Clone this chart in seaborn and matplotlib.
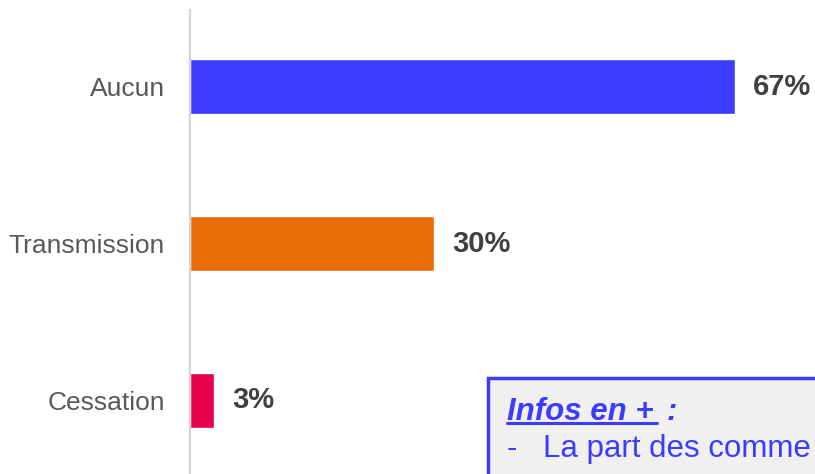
import matplotlib
matplotlib.use("Agg")
import matplotlib.pyplot as plt
import matplotlib.patches as mpatches
import matplotlib.lines as mlines
import pandas as pd
import seaborn as sns

# data
categories = ["Aucun", "Transmission", "Cessation"]
values = [67, 30, 3]
bar_colors = ["#3c3cff", "#e96c07", "#e6004c"]
value_labels = ["67%", "30%", "3%"]

W, H = 815, 474

sns.set_style("white")
plt.rcParams["font.family"] = ["Liberation Sans", "DejaVu Sans"]

df = pd.DataFrame({"cat": categories, "val": values})

fig = plt.figure(figsize=(W / 100, H / 100), dpi=100)
ax = fig.add_axes([190 / W, 0, (W - 190) / W, 464 / H])

sns.barplot(data=df, x="val", y="cat", hue="cat", palette=bar_colors,
            order=categories, hue_order=categories, width=0.35,
            orient="h", legend=False, ax=ax, saturation=1)

ax.set_xlim(0, (W - 190) / 8.13)
ax.set_ylim(2.47, -0.49)
ax.set_xlabel("")
ax.set_ylabel("")
ax.set_xticks([])
for s in ["top", "right", "bottom"]:
    ax.spines[s].set_visible(False)
ax.spines["left"].set_color("#d4d4d4")
ax.spines["left"].set_linewidth(1.6)
ax.tick_params(axis="y", length=0, pad=18, labelsize=19, labelcolor="#595959")

for i, (v, lab) in enumerate(zip(values, value_labels)):
    ax.annotate(lab, xy=(v, i), xytext=(13, 0), textcoords="offset points",
                ha="left", va="center", fontsize=21, fontweight="bold",
                color="#404040", annotation_clip=False)

# info box, cut off by the figure edge
box = mpatches.Rectangle((488 / W, -0.1), 1.0, (H - 378) / H + 0.1,
                         transform=fig.transFigure, facecolor="#f0f0f0",
                         edgecolor="#3c3cff", linewidth=2.5, zorder=5)
fig.patches.append(box)

blue_txt = "#3c3cff"
fig.text(507 / W, 1 - 420 / H, "Infos en +", fontsize=22.5, fontweight="bold",
         fontstyle="italic", color=blue_txt, ha="left", va="baseline", zorder=6)
fig.text(667 / W, 1 - 420 / H, ":", fontsize=22.5, fontweight="bold",
         fontstyle="italic", color=blue_txt, ha="left", va="baseline", zorder=6)
fig.lines.append(mlines.Line2D([507 / W, 657 / W], [1 - 423 / H, 1 - 423 / H],
                               transform=fig.transFigure, color=blue_txt,
                               linewidth=2.2, zorder=6))
fig.text(507 / W, 1 - 457 / H, "-", fontsize=22.5, color=blue_txt,
         ha="left", va="baseline", zorder=6)
fig.text(543 / W, 1 - 457 / H, "La part des comme", fontsize=22.5,
         color=blue_txt, ha="left", va="baseline", zorder=6)

fig.savefig("out.png", dpi=100)
